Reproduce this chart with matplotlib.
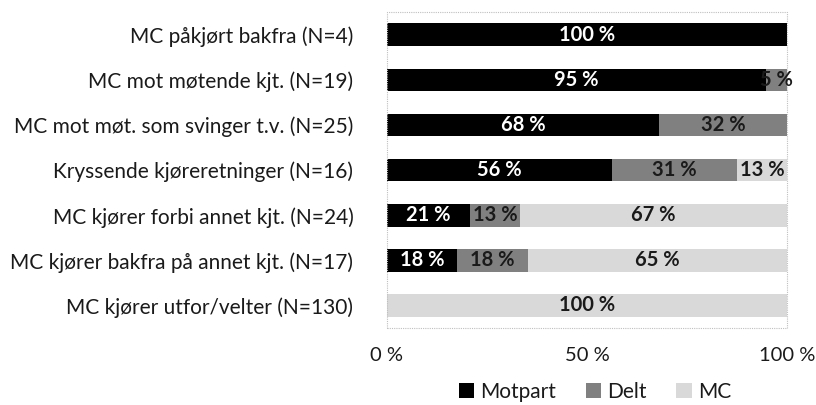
import numpy as np
import matplotlib.pyplot as plt
from matplotlib.patches import Rectangle

plt.rcParams['font.family'] = ['Lato', 'DejaVu Sans']

categories = ['MC påkjørt bakfra (N=4)',
              'MC mot møtende kjt. (N=19)',
              'MC mot møt. som svinger t.v. (N=25)',
              'Kryssende kjøreretninger (N=16)',
              'MC kjører forbi annet kjt. (N=24)',
              'MC kjører bakfra på annet kjt. (N=17)',
              'MC kjører utfor/velter (N=130)']
# share of cases (%) per category
motpart = [100, 94.7, 68, 56.25, 20.8, 17.6, 0]
delt = [0, 5.3, 32, 31.25, 12.5, 17.6, 0]
mc = [0, 0, 0, 12.5, 66.7, 64.7, 100]
series = ['Motpart', 'Delt', 'MC']
colors = ['#000000', '#808080', '#d9d9d9']
text_colors = ['white', '#1a1a1a', '#1a1a1a']

fig = plt.figure(figsize=(8.16, 4.05), dpi=100)
ax = fig.add_axes([0.474, 0.19, 0.4905, 0.78])

y = np.arange(len(categories))
left = np.zeros(len(categories))
for vals, name, col, tcol in zip([motpart, delt, mc], series, colors, text_colors):
    vals = np.array(vals, dtype=float)
    ax.barh(y, vals, left=left, height=0.5, color=col, label=name)
    for yi, v, l in zip(y, vals, left):
        if v > 0:
            ax.text(l + v / 2, yi, f'{int(v + 0.5)} %', ha='center', va='center',
                    color=tcol, fontsize=14.5, fontweight='bold')
    left += vals

ax.set_ylim(len(categories) - 0.5, -0.5)
ax.set_xlim(0, 100)
ax.set_yticks(y)
ax.set_yticklabels(categories, fontsize=15, color='#1a1a1a')
ax.set_xticks([0, 50, 100])
ax.set_xticklabels(['0 %', '50 %', '100 %'], fontsize=14.5, color='#1a1a1a')
ax.tick_params(axis='y', length=0, pad=24)
ax.tick_params(axis='x', length=0, pad=14)
for s in ax.spines.values():
    s.set_visible(False)

# dotted plot-area frame
ax.add_patch(Rectangle((0, 0), 1, 1, transform=ax.transAxes, fill=False,
                       edgecolor='#bfbfbf', linestyle=(0, (1, 1)), linewidth=0.8,
                       clip_on=False))

fig.legend(loc='center', bbox_to_anchor=(595 / 816, 1 - 392 / 405), ncol=3, frameon=False,
           fontsize=15, handlelength=0.75, handleheight=0.75, handletextpad=0.3,
           columnspacing=1.4, labelcolor='#1a1a1a', borderpad=0)

plt.savefig('out.png', dpi=100)
